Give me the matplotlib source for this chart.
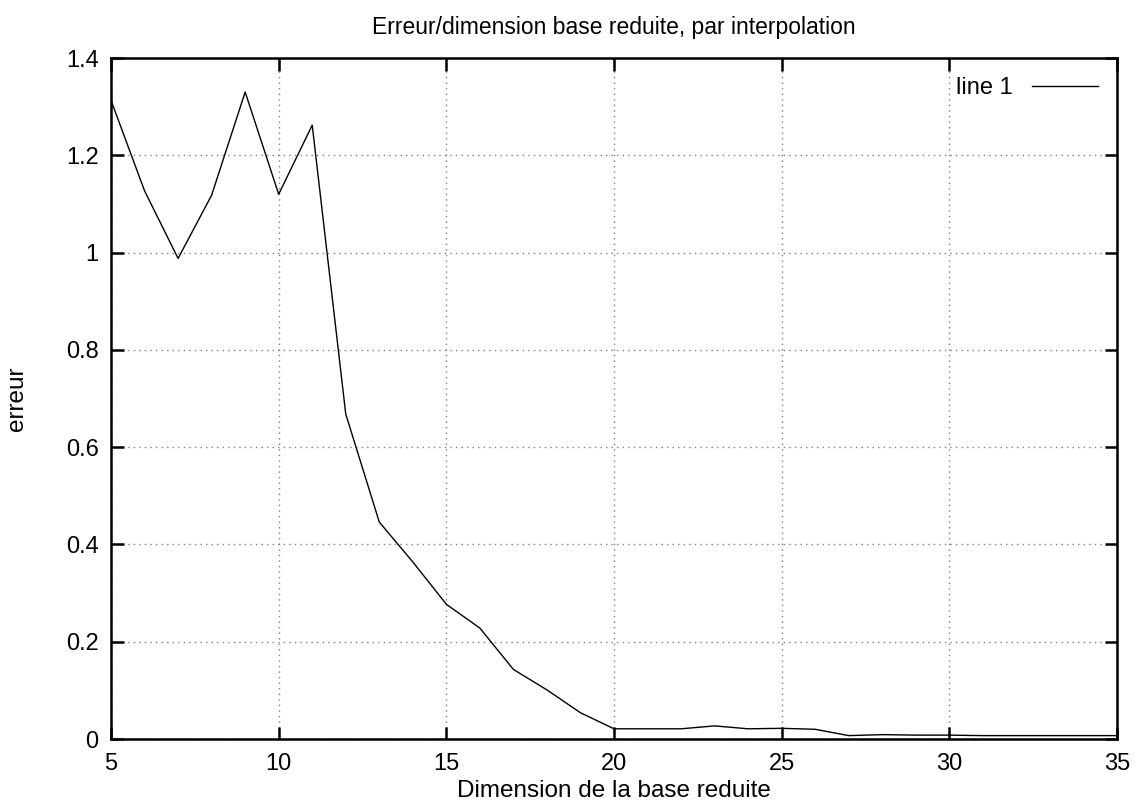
import matplotlib
matplotlib.use("Agg")
import matplotlib.pyplot as plt

plt.rcParams['font.family'] = ['Liberation Sans', 'DejaVu Sans']

# reduced basis dimension vs interpolation error
dims = list(range(5, 36))
errors = [1.313, 1.127, 0.988, 1.118, 1.330, 1.120, 1.262, 0.668, 0.446, 0.364,
          0.277, 0.228, 0.143, 0.101, 0.054, 0.021, 0.021, 0.021, 0.027, 0.021,
          0.022, 0.020, 0.007, 0.009, 0.008, 0.008, 0.007, 0.007, 0.007, 0.007,
          0.007]

x_ticks = [5, 10, 15, 20, 25, 30, 35]
y_ticks = [0, 0.2, 0.4, 0.6, 0.8, 1, 1.2, 1.4]
y_labels = ['0', '0.2', '0.4', '0.6', '0.8', '1', '1.2', '1.4']

fig = plt.figure(figsize=(11.41, 8.06), dpi=100)
ax = fig.add_axes([0.0973, 0.0831, 0.8817, 0.8449])

ax.plot(dims, errors, color='black', linewidth=1.0, label='line 1')

ax.set_xlim(5, 35)
ax.set_ylim(0, 1.4)
ax.set_xticks(x_ticks)
ax.set_yticks(y_ticks)
ax.set_yticklabels(y_labels)

ax.grid(True, linestyle=(0, (1, 3)), color='#808080', linewidth=1.0)
ax.tick_params(direction='in', length=9, width=1.8, top=True, right=True,
               labelsize=17)
ax.tick_params(axis='x', pad=10)
ax.tick_params(axis='y', pad=9)
for s in ax.spines.values():
    s.set_linewidth(1.8)

ax.set_title('Erreur/dimension base reduite, par interpolation', fontsize=16.5, pad=17)
ax.set_xlabel('Dimension de la base reduite', fontsize=17.5, labelpad=4)
ax.set_ylabel('erreur', fontsize=17.5, labelpad=27)

leg = ax.legend(loc='upper right', frameon=False, markerfirst=False,
                fontsize=17, handlelength=2.8, borderaxespad=0.4)

fig.savefig('out.png', dpi=100)
